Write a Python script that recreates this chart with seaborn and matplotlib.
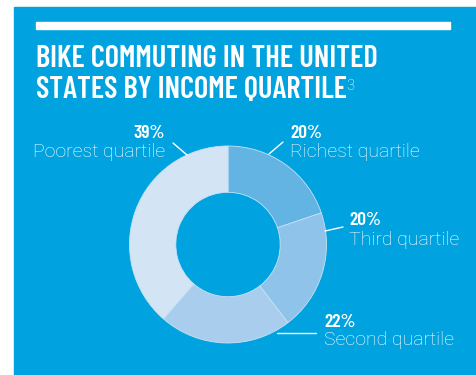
import matplotlib
matplotlib.use("Agg")
import matplotlib.pyplot as plt
import seaborn as sns
from matplotlib.patches import Rectangle

# ---- data ----
categories = ["Richest quartile", "Third quartile", "Second quartile", "Poorest quartile"]
shares = [20, 20, 22, 39]
share_labels = ["20%", "20%", "22%", "39%"]
slice_colors = ["#63b3e3", "#8fc3e9", "#a9cdec", "#d3e5f5"]
title_lines = ["BIKE COMMUTING IN THE UNITED", "STATES BY INCOME QUARTILE"]
footnote = "3"

sns.set_theme(style="white")
TITLE_FONT = ["Barlow Condensed", "DejaVu Sans"]
LABEL_FONT = ["Roboto", "DejaVu Sans"]
plt.rcParams["font.family"] = LABEL_FONT

W, H = 476, 375
BLUE = "#00a3df"
fig = plt.figure(figsize=(W / 100, H / 100), dpi=100)
fig.patch.set_facecolor("white")
ax = fig.add_axes([0, 0, 1, 1])

def Y(y):
    return H - y

# donut
cx, cy, R = 228, Y(244.5), 98.5
wedges, _ = ax.pie(shares, colors=slice_colors, startangle=90, counterclock=False,
                   center=(cx, cy), radius=R, frame=True,
                   wedgeprops=dict(width=R * 0.47, edgecolor="#c8e2f4", linewidth=0.6))
ax.set_xlim(0, W)
ax.set_ylim(0, H)
ax.set_aspect("equal")
ax.axis("off")

# blue panel
ax.add_patch(Rectangle((14, 0), W - 14, Y(7), color=BLUE, zorder=0))
# white rule
ax.add_patch(Rectangle((36, Y(29)), 414, 7, color="white", zorder=1))

# title
t1 = ax.text(36, Y(67), title_lines[0], color="white", fontsize=22, fontweight="semibold",
             family=TITLE_FONT, ha="left", va="baseline")
t2 = ax.text(36, Y(98), title_lines[1], color="white", fontsize=22, fontweight="semibold",
             family=TITLE_FONT, ha="left", va="baseline")
fig.canvas.draw()
bb = t2.get_window_extent()
ax.text(bb.x1 - 1, Y(98) + 7.5, footnote, color="white", fontsize=10.5, fontweight="light",
        family=LABEL_FONT, ha="left", va="baseline")

# labels: (x, pct baseline, label baseline, ha, leader line)
label_pos = {
    "Richest quartile": (290, 138.5, 157, "left", ((269, 154), (283, 142))),
    "Third quartile": (349, 225, 245, "left", ((325, 231), (343, 227))),
    "Second quartile": (324, 327, 345, "left", ((277, 333), (316, 333))),
    "Poorest quartile": (165, 138.5, 157, "right", ((173, 143), (187, 155))),
}
for cat, pct in zip(categories, share_labels):
    x, yp, yl, ha, ((x0, y0), (x1, y1)) = label_pos[cat]
    ax.text(x, Y(yp), pct, color="white", fontsize=14, fontweight="semibold",
            family=TITLE_FONT, ha=ha, va="baseline")
    ax.text(x, Y(yl), cat, color="white", fontsize=14, fontweight="light",
            family=LABEL_FONT, ha=ha, va="baseline")
    ax.plot([x0, x1], [Y(y0), Y(y1)], color="white", lw=1)

fig.savefig("out.png", dpi=100, facecolor="white")
